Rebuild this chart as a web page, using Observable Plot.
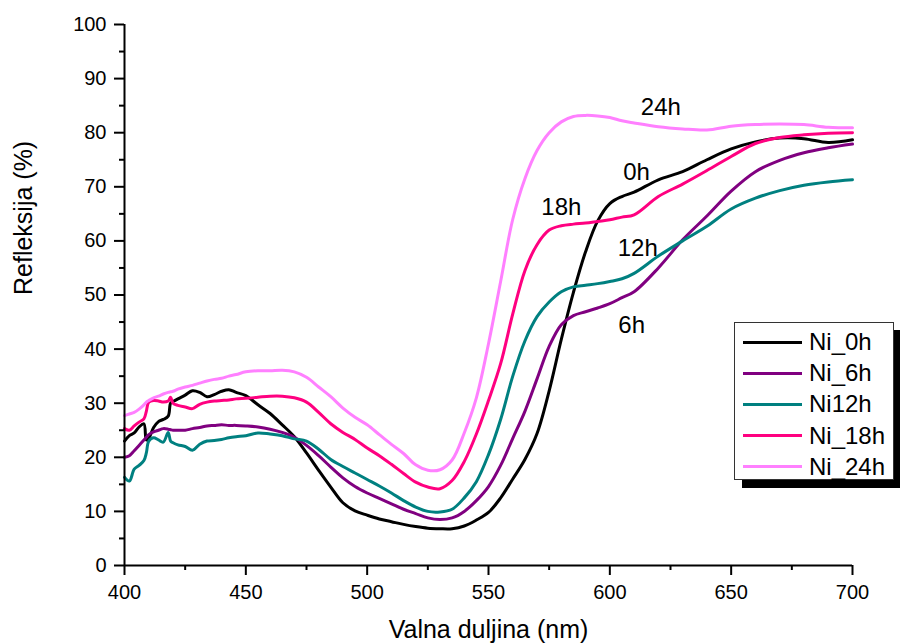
<!DOCTYPE html>
<html>
<head>
<meta charset="utf-8">
<script src="https://cdn.jsdelivr.net/npm/d3@7"></script>
<script src="https://cdn.jsdelivr.net/npm/@observablehq/plot@0.6"></script>
<style>
  html, body { margin: 0; padding: 0; background: #fff; }
  #wrap { position: relative; width: 900px; height: 644px; font-family: "Liberation Sans", Arial, sans-serif; }
  #legend { position: absolute; left: 734px; top: 322px; width: 160px; height: 158px; background: #fff;
            border: 1px solid #333; box-shadow: 8px 8px 0 #000; box-sizing: border-box; }
  .row { position: absolute; left: 0; height: 30px; display: flex; align-items: center; }
  .sw { width: 59px; height: 3px; margin-left: 8px; margin-right: 7px; }
  .lab { font-size: 24px; color: #000; line-height: 1; }
</style>
</head>
<body>
<div id="wrap"></div>
<script>
// Wavelength grid (nm)
const wavelength = [400,402,404,406,408,409,410,412,414,416,418,419,420,422,425,428,431,434,437,440,443,446,
  450,455,460,465,470,475,480,485,490,495,500,505,510,515,520,525,530,535,540,545,550,555,560,565,570,575,580,585,590,595,600,605,610,
  620,630,640,650,660,670,680,690,700];

// Reflectance (%) per series
const ni0h = [23,24,24.5,25.6,26.2,23.2,23.5,25.5,26.6,27,27.6,30,30.3,30.8,31.5,32.3,32,31.2,31.6,32.2,32.5,32,
  31.4,29.7,28.1,26,23.8,20.8,17.6,14.5,11.6,10.1,9.3,8.6,8.1,7.6,7.2,6.9,6.8,6.8,7.3,8.4,9.8,12.5,16,19.6,24.4,32.3,41.8,50.5,58,63.7,66.9,68.2,69,
  71.3,72.8,75,77,78.3,79,78.9,78.2,78.7];
const ni6h = [20,20.3,21.2,22.2,23.2,23.7,24.2,24.7,25,25.3,25.2,25.1,25,25,25,25.3,25.5,25.8,25.9,26,25.9,25.9,
  25.8,25.6,25.2,24.6,23.7,22.2,20.3,18.2,16.2,14.6,13.4,12.4,11.4,10.4,9.6,8.8,8.5,8.8,10,12,14.6,18.5,23.5,28.5,34.5,40.5,44.5,46.2,46.9,47.6,48.4,49.5,50.6,
  55,60.2,64.6,69.2,72.8,74.9,76.3,77.2,77.9];
const ni12h = [16.3,15.6,17.8,18.5,19.4,20.8,23,23.6,23.2,22.8,24.6,23,22.7,22.3,22,21.3,22.4,23,23.1,23.3,23.6,23.8,
  24,24.5,24.3,24,23.4,23,21.5,19.6,18.3,17.1,15.9,14.7,13.4,12,10.8,10,9.9,10.4,12.5,15.5,20.5,27,35,41.5,46,48.7,50.6,51.5,51.8,52.1,52.5,53,54,
  57.2,60,62.7,65.9,67.9,69.3,70.3,70.9,71.3];
const ni18h = [25.3,25,25.8,26.5,27.1,28.5,30.2,30.5,30.4,30.2,30.4,31.1,30,29.6,29.3,29,29.8,30.2,30.4,30.5,30.6,30.8,
  30.9,31.1,31.3,31.3,31,30.2,28.3,26.2,24.6,23.3,21.7,20.3,18.7,17,15.4,14.5,14.2,15.7,19.2,24.3,30.5,37.3,46.5,54.5,59.3,62,62.8,63.1,63.3,63.6,63.9,64.4,64.8,
  68.2,70.5,73,75.6,78,79.1,79.6,79.9,80];
const ni24h = [27.7,28,28.3,28.9,29.7,30.2,30.5,31,31.3,31.7,32,32.1,32.2,32.6,33,33.3,33.7,34.1,34.4,34.6,35,35.3,
  35.8,36,36,36.1,35.8,34.8,33,31.2,29.1,27.4,26,24.2,22.4,20.7,18.6,17.6,17.7,19.5,24.5,31,41,52.5,64,71.5,76.7,80,82,83,83.2,83.1,82.8,82.2,81.8,
  81.1,80.7,80.5,81.2,81.5,81.6,81.5,81,80.9];

const seriesNames = ["Ni_0h", "Ni_6h", "Ni12h", "Ni_18h", "Ni_24h"];
const seriesColors = ["#000000", "#800080", "#008080", "#ff0080", "#ff80ff"];
const seriesValues = [ni0h, ni6h, ni12h, ni18h, ni24h];

const xTicks = [400, 450, 500, 550, 600, 650, 700];
const xMinorTicks = [425, 475, 525, 575, 625, 675];
const yTicks = [0, 10, 20, 30, 40, 50, 60, 70, 80, 90, 100];
const yMinorTicks = [5, 15, 25, 35, 45, 55, 65, 75, 85, 95];

const annoLabels = ["24h", "0h", "18h", "12h", "6h"];
const annoX = [621, 611, 580, 611.5, 609];
const annoY = [83.2, 71.2, 64.7, 57.3, 42.9];

const rows = [];
seriesNames.forEach((name, i) => {
  wavelength.forEach((w, j) => rows.push({series: name, wl: w, r: seriesValues[i][j]}));
});
const annos = annoLabels.map((t, i) => ({t, x: annoX[i], y: annoY[i]}));

const chart = Plot.plot({
  width: 900,
  height: 644,
  marginLeft: 124,
  marginRight: 48,
  marginTop: 24,
  marginBottom: 79,
  style: {fontFamily: "'Liberation Sans', Arial, sans-serif", fontSize: "20px", color: "#000", background: "#fff"},
  x: {domain: [400, 700]},
  y: {domain: [0, 100]},
  color: {domain: seriesNames, range: seriesColors},
  marks: [
    Plot.line(rows, {x: "wl", y: "r", z: "series", stroke: "series", strokeWidth: 3, strokeLinejoin: "round", curve: "catmull-rom"}),
    Plot.ruleY([0], {strokeWidth: 2}),
    Plot.ruleX([400], {strokeWidth: 2}),
    Plot.axisX({ticks: xTicks, tickSize: 10, tickPadding: 9, strokeWidth: 2, fontSize: 20, label: null, tickFormat: d => String(d)}),
    Plot.axisX({ticks: xMinorTicks, tickSize: 5, strokeWidth: 2, label: null, tickFormat: () => ""}),
    Plot.axisY({ticks: yTicks, tickSize: 10, tickPadding: 8, strokeWidth: 2, fontSize: 20, label: null, tickFormat: d => String(d)}),
    Plot.axisY({ticks: yMinorTicks, tickSize: 5, strokeWidth: 2, label: null, tickFormat: () => ""}),
    Plot.text(annos, {x: "x", y: "y", text: "t", fontSize: 24, lineAnchor: "bottom", textAnchor: "middle", fill: "#000"}),
    Plot.text(["Valna duljina (nm)"], {frameAnchor: "bottom", dy: 72, lineAnchor: "bottom", fontSize: 25, fill: "#000"}),
    Plot.text(["Refleksija (%)"], {frameAnchor: "left", dx: -93, rotate: -90, lineAnchor: "bottom", fontSize: 25, fill: "#000"})
  ]
});

const wrap = document.getElementById("wrap");
wrap.appendChild(chart);

const legend = document.createElement("div");
legend.id = "legend";
seriesNames.forEach((name, i) => {
  const row = document.createElement("div");
  row.className = "row";
  row.style.top = (4 + i * 31.2) + "px";
  const sw = document.createElement("div");
  sw.className = "sw";
  sw.style.background = seriesColors[i];
  const lab = document.createElement("span");
  lab.className = "lab";
  lab.textContent = name;
  row.appendChild(sw);
  row.appendChild(lab);
  legend.appendChild(row);
});
wrap.appendChild(legend);
</script>
</body>
</html>
